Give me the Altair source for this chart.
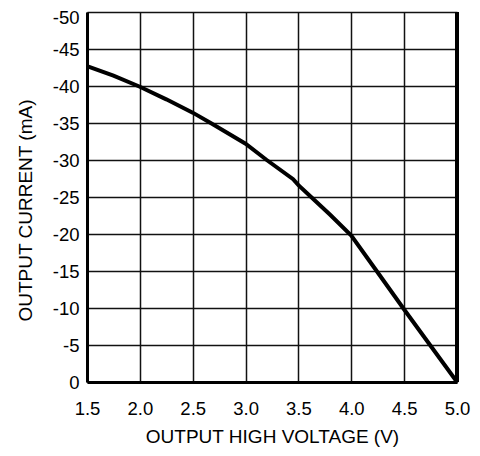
import altair as alt
import pandas as pd

voltage = [1.5, 1.75, 2.0, 2.25, 2.5, 2.67, 3.0, 3.2, 3.45, 3.5, 3.62, 3.8, 4.0, 4.24, 4.5, 4.75, 5.0]
current = [-42.7, -41.4, -39.9, -38.2, -36.4, -35.0, -32.2, -30.0, -27.4, -26.6, -25.0, -22.6, -19.8, -15.0, -9.8, -4.9, 0.0]
x_ticks = [1.5, 2.0, 2.5, 3.0, 3.5, 4.0, 4.5, 5.0]
y_ticks = [0, -5, -10, -15, -20, -25, -30, -35, -40, -45, -50]

df = pd.DataFrame({"v": voltage, "i": current})
FONT = "Liberation Sans"
W, H = 370, 370

x_enc = alt.X("v:Q", scale=alt.Scale(domain=[1.5, 5.0], nice=False, zero=False),
              axis=alt.Axis(values=x_ticks, format=".1f", title="OUTPUT HIGH VOLTAGE (V)",
                            grid=True, gridColor="#111111", gridWidth=1.5, gridOpacity=1,
                            domain=True, domainColor="black", domainWidth=3,
                            ticks=False, labelFlush=False, labelPadding=17, labelFontSize=18.5,
                            labelFont=FONT, labelColor="black",
                            titleFont=FONT, titleFontSize=19, titleFontWeight="normal",
                            titleColor="black", titleBaseline="middle", titleY=54))
y_enc = alt.Y("i:Q", scale=alt.Scale(domain=[0, -50], nice=False, zero=False),
              axis=alt.Axis(values=y_ticks, title="OUTPUT CURRENT (mA)",
                            labelExpr="datum.value == 0 ? '0' : '-' + abs(datum.value)",
                            labelOffset={"condition": {"test": "datum.value == -50", "value": 5}, "value": 0},
                            grid=True, gridColor="#111111", gridWidth=1.5, gridOpacity=1,
                            domain=True, domainColor="black", domainWidth=3,
                            ticks=False, labelFlush=False, labelPadding=8, labelFontSize=18.5,
                            labelFont=FONT, labelColor="black",
                            titleFont=FONT, titleFontSize=19, titleFontWeight="normal",
                            titleColor="black", titleBaseline="middle", titleAlign="center",
                            titleX=-62, titleY=198))

line = alt.Chart(df).mark_line(color="black", strokeWidth=4, clip=True).encode(x=x_enc, y=y_enc)

right = alt.Chart(df).mark_rule(color="black", strokeWidth=3).encode(
    x=alt.value(W), y=alt.value(0), y2=alt.value(H))

chart = alt.layer(line, right).properties(
    width=W, height=H,
    autosize=alt.AutoSizeParams(type="none"),
    padding={"left": 79, "top": 4, "right": 15, "bottom": 66},
).configure_view(stroke=None)

chart.save("out.html", embed_options={"renderer": "svg", "actions": False})
